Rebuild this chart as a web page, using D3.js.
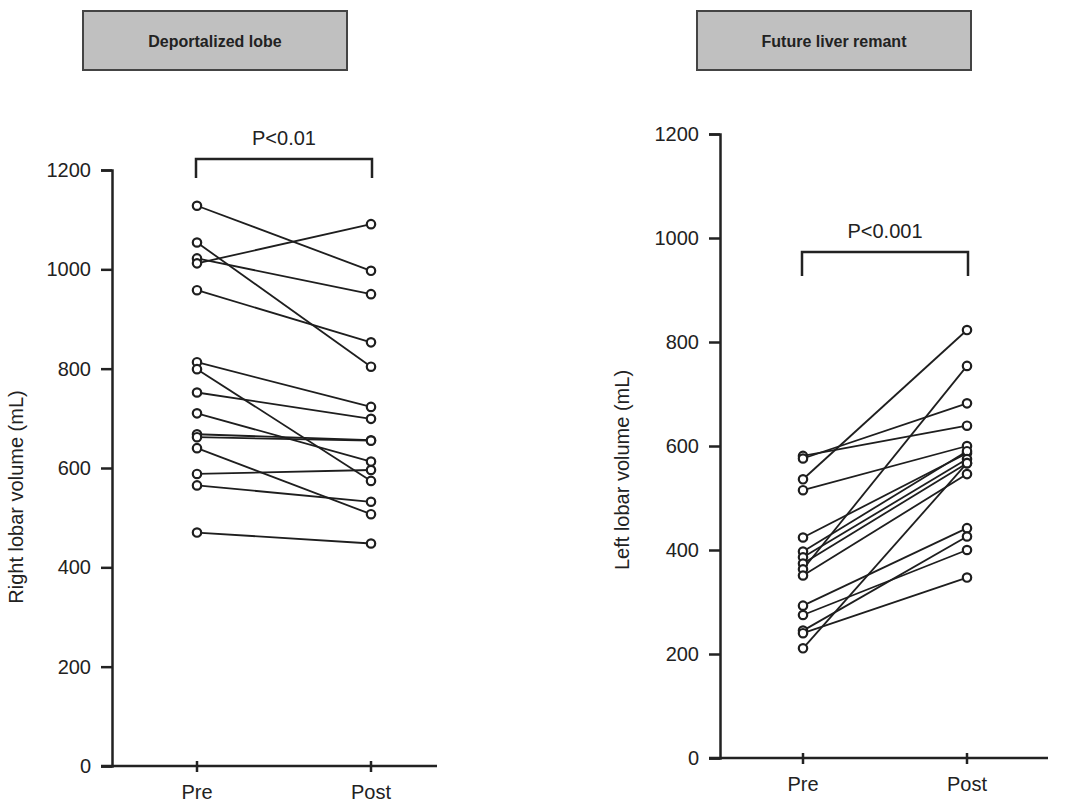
<!DOCTYPE html>
<html>
<head>
<meta charset="utf-8">
<script src="https://cdn.jsdelivr.net/npm/d3@7"></script>
<style>
  body { margin: 0; background: #fff; }
  svg text { font-family: "Liberation Sans", Arial, sans-serif; fill: #222; }
</style>
</head>
<body>
<svg id="chart" width="1073" height="804"></svg>
<script>
// values (mL)
const phases = ["Pre", "Post"]
const yTicks = [0, 200, 400, 600, 800, 1000, 1200]

const rightLobePre  = [1128, 1054, 1022, 1012, 958, 813, 799, 752, 710, 668, 662, 640, 588, 565, 470]
const rightLobePost = [997, 804, 950, 1091, 853, 723, 574, 699, 613, 656, 655, 507, 596, 532, 448]

const leftLobePre  = [581, 576, 536, 515, 424, 397, 386, 374, 363, 351, 293, 275, 245, 240, 211]
const leftLobePost = [639, 682, 823, 600, 586, 590, 575, 567, 754, 546, 442, 400, 426, 347, 567]

const panels = [
  {title: "Deportalized lobe", ylabel: "Right lobar volume (mL)", pvalue: "P<0.01",
   pre: rightLobePre, post: rightLobePost,
   box: [83, 347], axisX: 112, yRange: [766, 170], xRange: [197, 371], xEnd: 437,
   labelX: 16, labelY: 497, bracketY: 159, bracketDrop: 19},
  {title: "Future liver remant", ylabel: "Left lobar volume (mL)", pvalue: "P<0.001",
   pre: leftLobePre, post: leftLobePost,
   box: [697, 971], axisX: 720, yRange: [758, 134], xRange: [803, 967], xEnd: 1048,
   labelX: 622, labelY: 470, bracketY: 252, bracketDrop: 24}
]

const svg = d3.select("#chart")

panels.forEach(function(p) {
  const g = svg.append("g")

  // header box
  g.append("rect").attr("x", p.box[0]).attr("y", 11).attr("width", p.box[1] - p.box[0]).attr("height", 59)
    .attr("fill", "#c0c0c0").attr("stroke", "#444").attr("stroke-width", 2)
  g.append("text").attr("x", (p.box[0] + p.box[1]) / 2).attr("y", 47)
    .attr("text-anchor", "middle").attr("font-size", 16).attr("font-weight", "bold")
    .text(p.title)

  const y = d3.scaleLinear().domain([0, 1200]).range(p.yRange)
  const x = d3.scalePoint().domain(phases).range(p.xRange)

  // y axis
  const ya = g.append("g").attr("transform", "translate(" + p.axisX + ",0)")
    .call(d3.axisLeft(y).tickValues(yTicks).tickSize(11).tickPadding(10).tickFormat(d3.format("d")))
  ya.select(".domain").attr("stroke", "#222").attr("stroke-width", 2.5)
  ya.selectAll(".tick line").attr("stroke", "#222").attr("stroke-width", 2.5)
  ya.selectAll(".tick text").attr("font-size", 20).attr("fill", "#222")
    .style("font-family", "'Liberation Sans', Arial, sans-serif")

  // x axis
  const y0 = y(0)
  g.append("line").attr("x1", p.axisX - 11).attr("x2", p.xEnd).attr("y1", y0).attr("y2", y0)
    .attr("stroke", "#222").attr("stroke-width", 2.5)
  g.selectAll(".xtick").data(phases).join("line").attr("class", "xtick")
    .attr("x1", d => x(d)).attr("x2", d => x(d))
    .attr("y1", y0 - 5).attr("y2", y0 + 6)
    .attr("stroke", "#222").attr("stroke-width", 2.5)
  g.selectAll(".xlab").data(phases).join("text").attr("class", "xlab")
    .attr("x", d => x(d)).attr("y", y0 + 33)
    .attr("text-anchor", "middle").attr("font-size", 20)
    .text(d => d)

  // y label
  g.append("text")
    .attr("transform", "translate(" + (p.labelX + 7) + "," + p.labelY + ") rotate(-90)")
    .attr("text-anchor", "middle").attr("font-size", 20)
    .text(p.ylabel)

  // paired lines
  const pairs = p.pre.map((v, i) => ({pre: v, post: p.post[i]}))
  g.selectAll(".pair").data(pairs).join("line").attr("class", "pair")
    .attr("x1", x("Pre")).attr("x2", x("Post"))
    .attr("y1", d => y(d.pre)).attr("y2", d => y(d.post))
    .attr("stroke", "#1e1e1e").attr("stroke-width", 1.8)

  const pts = []
  pairs.forEach(d => { pts.push({k: "Pre", v: d.pre}); pts.push({k: "Post", v: d.post}) })
  g.selectAll(".pt").data(pts).join("circle").attr("class", "pt")
    .attr("cx", d => x(d.k)).attr("cy", d => y(d.v)).attr("r", 4.2)
    .attr("fill", "#fff").attr("stroke", "#1e1e1e").attr("stroke-width", 2.2)

  // significance bracket
  const bx0 = x("Pre") - 1, bx1 = x("Post") + 1
  g.append("path")
    .attr("d", "M" + bx0 + "," + (p.bracketY + p.bracketDrop) + "V" + p.bracketY + "H" + bx1 + "V" + (p.bracketY + p.bracketDrop))
    .attr("fill", "none").attr("stroke", "#222").attr("stroke-width", 2.5)
  g.append("text").attr("x", (bx0 + bx1) / 2).attr("y", p.bracketY - 14)
    .attr("text-anchor", "middle").attr("font-size", 20)
    .text(p.pvalue)
})
</script>
</body>
</html>
